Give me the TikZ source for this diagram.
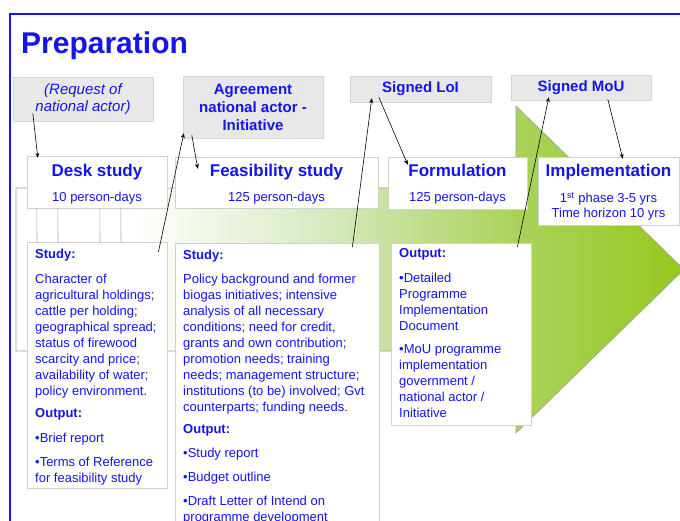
\documentclass[tikz,border=0pt]{standalone}
\usepackage{fontspec}
\setmainfont{Liberation Sans}
\usetikzlibrary{arrows.meta}
\definecolor{txtblue}{RGB}{20,20,235}
\definecolor{frameblue}{RGB}{20,20,240}
\definecolor{boxgray}{RGB}{232,232,232}
\definecolor{boxline}{RGB}{214,214,214}
\definecolor{whiteline}{RGB}{208,208,208}
\definecolor{fadeA}{RGB}{216,233,192}
\definecolor{fadeB}{RGB}{170,210,92}
\definecolor{fadeC}{RGB}{150,200,30}
\pgfdeclarehorizontalshading{arrowfade}{100bp}{color(0bp)=(white); color(34bp)=(white); color(48bp)=(fadeA); color(62.5bp)=(fadeB); color(75bp)=(fadeC); color(100bp)=(fadeC)}

\begin{document}
\begin{tikzpicture}[x=1pt,y=-1pt,
  graybox/.style={draw=boxline,fill=boxgray,inner sep=0pt,text=txtblue,align=center,font=\fontsize{15}{18}\selectfont\bfseries},
  whitebox/.style={draw=whiteline,fill=white,inner sep=0pt},
  headtitle/.style={anchor=base,inner sep=0pt,text=txtblue,font=\fontsize{17}{20}\selectfont\bfseries},
  headsub/.style={anchor=base,inner sep=0pt,text=txtblue,font=\fontsize{13}{16}\selectfont},
  bodytext/.style={anchor=north west,inner sep=0pt,text=txtblue,align=left,font=\fontsize{13}{16}\selectfont},
  link/.style={-{Stealth[length=5pt,width=4pt]},line width=0.6pt},
  gridline/.style={draw=gray!70,line width=0.6pt}]
\path[use as bounding box] (0,0) rectangle (680,521);
\draw[frameblue,line width=2pt] (10,521) -- (10,14) -- (680,14);
\node[anchor=base west,inner sep=0pt,text=txtblue,font=\fontsize{30}{36}\selectfont\bfseries] (title) at (21,54) {Preparation};
% big arrow behind the phases
\path[draw=gray!75,line width=0.6pt,shading=arrowfade] (16,188) -- (516,188) -- (516,106) -- (684,269.5) -- (516,433) -- (516,351) -- (16,351) -- cycle;
% milestones
\node[graybox,minimum width=140,minimum height=44,font=\fontsize{15}{17}\selectfont\itshape] (req) at (83,99) {(Request of\\national actor)};
\node[graybox,minimum width=140,minimum height=62] (agree) at (253,107) {Agreement\\national actor -\\Initiative};
\node[graybox,minimum width=141,minimum height=26] (loi) at (420.5,89) {Signed LoI};
\node[graybox,minimum width=140,minimum height=25] (mou) at (581,87.5) {Signed MoU};
% phases
\node[whitebox,minimum width=140,minimum height=52] (desk) at (97,182) {};
\node[headtitle] (desk-t) at (97,177) {Desk study};
\node[headsub] (desk-s) at (97,202) {10 person-days};
\node[whitebox,minimum width=203,minimum height=51] (feas) at (276.5,182.5) {};
\node[headtitle] (feas-t) at (276.5,177) {Feasibility study};
\node[headsub] (feas-s) at (276.5,202) {125 person-days};
\node[whitebox,minimum width=139,minimum height=52] (form) at (457.5,183) {};
\node[headtitle] (form-t) at (457.5,177) {Formulation};
\node[headsub] (form-s) at (457.5,202) {125 person-days};
\node[whitebox,minimum width=141,minimum height=68] (impl) at (608.5,191) {};
\node[headtitle] (impl-t) at (608.5,177) {Implementation};
\node[headsub] (impl-s) at (608.5,203) {1\textsuperscript{st} phase 3-5 yrs};
\node[headsub] (impl-h) at (608.5,218) {Time horizon 10 yrs};
% phase contents
\node[whitebox,anchor=north west,minimum width=140,minimum height=246] (deskbody) at (27,242) {};
\node[whitebox,anchor=north west,minimum width=204,minimum height=300] (feasbody) at (175,243) {};
\node[whitebox,anchor=north west,minimum width=140,minimum height=182] (formbody) at (391,243) {};
\foreach \dx in {10,31,73,94}
  \draw[gridline] ([shift={(\dx,0)}]desk.south west) -- ([shift={(\dx,0)}]deskbody.north west);
\node[bodytext] (desk-b) at (35,248.5) {{\bfseries Study:}\\[9pt]
  Character of\\agricultural holdings;\\cattle per holding;\\geographical spread;\\status of firewood\\scarcity and price;\\availability of water;\\policy environment.\\[6pt]
  {\bfseries Output:}\\[9pt]
  •Brief report\\[8pt]
  •Terms of Reference\\for feasibility study};
\node[bodytext] (feas-b) at (183,249.5) {{\bfseries Study:}\\[8pt]
  Policy background and former\\biogas initiatives; intensive\\analysis of all necessary\\conditions; need for credit,\\grants and own contribution;\\promotion needs; training\\needs; management structure;\\institutions (to be) involved; Gvt\\counterparts; funding needs.\\[6pt]
  {\bfseries Output:}\\[8pt]
  •Study report\\[8pt]
  •Budget outline\\[8pt]
  •Draft Letter of Intend on\\programme development};
\node[bodytext] (form-b) at (399,248.5) {{\bfseries Output:}\\[9pt]
  •Detailed\\Programme\\Implementation\\Document\\[7pt]
  •MoU programme\\implementation\\government /\\national actor /\\Initiative};
% links
\draw[link] ([shift={(20,-8)}]req.south west) -- ([shift={(11,2)}]desk.north west);
\draw[link] ([shift={(-9,10)}]deskbody.north east) -- ([shift={(1,-5)}]agree.south west);
\draw[link] ([shift={(9,-3)}]agree.south west) -- ([shift={(23,12)}]feas.north west);
\draw[link] ([shift={(-27,4)}]feasbody.north east) -- ([shift={(22,-4)}]loi.south west);
\draw[link] ([shift={(29,-5)}]loi.south west) -- ([shift={(20,8)}]form.north west);
\draw[link] ([shift={(-14,4)}]formbody.north east) -- ([shift={(38,-3)}]mou.south west);
\draw[link] ([shift={(97,-1)}]mou.south west) -- ([shift={(85,2)}]impl.north west);
\end{tikzpicture}
\end{document}
